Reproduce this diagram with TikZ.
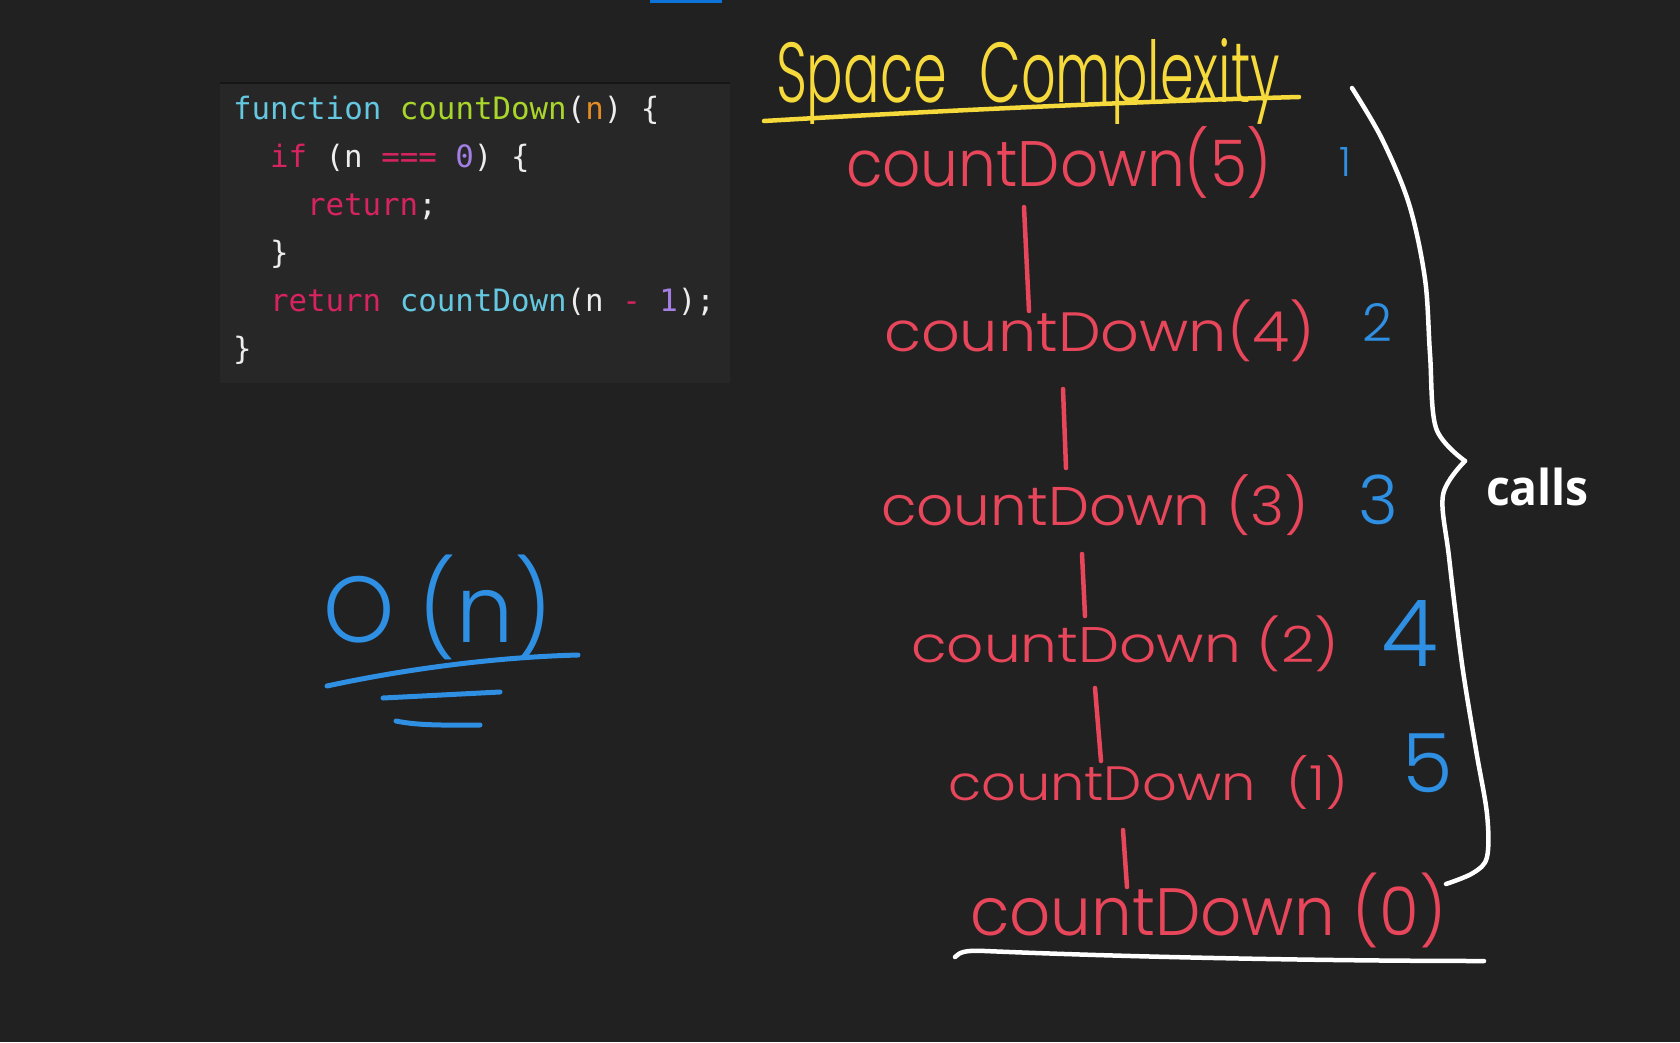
\documentclass[tikz,border=0pt]{standalone}
\usepackage{fontspec}
\usepackage{graphicx}
\newfontfamily\handfont{Poppins Light}
\newfontfamily\codefont{DejaVu Sans Mono}
\newfontfamily\callsfont{Open Sans}
\definecolor{bg}{HTML}{212121}
\definecolor{codebg}{HTML}{272727}
\definecolor{codetop}{HTML}{161616}
\definecolor{cwhite}{HTML}{EDEDED}
\definecolor{cfun}{HTML}{64C8E1}
\definecolor{cdef}{HTML}{A9D62A}
\definecolor{cparam}{HTML}{E38B24}
\definecolor{ckey}{HTML}{D7235F}
\definecolor{cnum}{HTML}{A37FE3}
\definecolor{hred}{HTML}{E8465A}
\definecolor{hyellow}{HTML}{F6DA3C}
\definecolor{hblue}{HTML}{2E8FE3}
\definecolor{barblue}{HTML}{0B73D9}
\newcommand{\fitto}[3]{\resizebox*{#1pt}{#2pt}{#3}}
\begin{document}
\begin{tikzpicture}[x=1pt,y=-1pt,
  hand/.style={inner sep=0pt, outer sep=0pt, anchor=north west, font=\handfont\fontsize{60}{60}\selectfont},
  redlbl/.style={hand, text=hred},
  bluenum/.style={hand, text=hblue, anchor=center},
  code/.style={inner sep=0pt, outer sep=0pt, anchor=base west, font=\codefont\fontsize{30.8}{36}\selectfont, text=cwhite},
  conn/.style={draw=hred, line width=4.5pt, line cap=round},
  bluestroke/.style={draw=hblue, line width=5pt, line cap=round, line join=round},
  whitestroke/.style={draw=white, line width=4.5pt, line cap=round, line join=round},
  yellowstroke/.style={draw=hyellow, line width=4.5pt, line cap=round, line join=round}]
\useasboundingbox (0,0) rectangle (1680,1042);
\fill[bg] (0,0) rectangle (1680,1042);
\fill[barblue] (650,0) rectangle (722,2.5);

% code block
\fill[codebg] (220,83) rectangle (730,383);
\draw[codetop, line width=2pt] (220,83) -- (730,83);
\node[code] (l1) at (233,119) {\textcolor{cfun}{function} \textcolor{cdef}{countDown}(\textcolor{cparam}{n}) \{};
\node[code] (l2) at (270,167) {\textcolor{ckey}{if} (n \textcolor{ckey}{===} \textcolor{cnum}{0}) \{};
\node[code] (l3) at (307,215) {\textcolor{ckey}{return};};
\node[code] (l4) at (270,263) {\}};
\node[code] (l5) at (270,311) {\textcolor{ckey}{return} \textcolor{cfun}{countDown}(n \textcolor{ckey}{-} \textcolor{cnum}{1});};
\node[code] (l6) at (233,359) {\}};

% title
\node[hand, text=hyellow] (title) at (776,38) {\fitto{504}{86}{Space\hspace{0.6em}Complexity}};
\draw[yellowstroke] (764,121) .. controls (950,110) and (1150,101) .. (1299,97);

% call chain
\node[redlbl] (c5) at (846,126) {\fitto{426}{72}{countDown(5)}};
\node[redlbl] (c4) at (884,300) {\fitto{431}{62}{countDown(4)}};
\node[redlbl] (c3) at (881,475) {\fitto{428}{61}{countDown (3)}};
\node[redlbl] (c2) at (911,616) {\fitto{428}{56}{countDown (2)}};
\node[redlbl] (c1) at (948,755) {\fitto{400}{54}{countDown\hspace{0.3em} (1)}};
\node[redlbl] (c0) at (970,873) {\fitto{476}{75}{countDown (0)}};

\draw[conn] ([shift={(178,9)}]c5.south west) -- ([shift={(145,11)}]c4.north west);
\draw[conn] ([shift={(179,27)}]c4.south west) -- ([shift={(185,-7)}]c3.north west);
\draw[conn] ([shift={(201,18)}]c3.south west) -- ([shift={(174,0)}]c2.north west);
\draw[conn] ([shift={(184,16)}]c2.south west) -- ([shift={(153,6)}]c1.north west);
\draw[conn] ([shift={(175,21)}]c1.south west) -- ([shift={(157,14)}]c0.north west);

% numbers
\node[bluenum] (n1) at (1345,162) {\resizebox*{!}{29pt}{1}};
\node[bluenum] (n2) at (1377,322) {\resizebox*{!}{38pt}{2}};
\node[bluenum] (n3) at (1378,500) {\resizebox*{!}{50pt}{3}};
\node[bluenum] (n4) at (1410,633) {\resizebox*{!}{66pt}{4}};
\node[bluenum] (n5) at (1428,763) {\resizebox*{!}{59pt}{5}};

% brace
\draw[whitestroke] plot[smooth, tension=0.55] coordinates {(1352,88) (1382,139) (1409,204) (1425,279) (1430,354) (1436,428) (1465,461)};
\draw[whitestroke] plot[smooth, tension=0.55] coordinates {(1465,461) (1443,495) (1449,557) (1462,664) (1476,750) (1487,814) (1487,857) (1473,873) (1446,884)};
\node[inner sep=0pt, outer sep=0pt, anchor=north west, text=white, font=\callsfont\bfseries\fontsize{40}{40}\selectfont] (calls) at (1486,468) {\fitto{103}{38}{calls}};

% bottom line
\draw[whitestroke] (955,957) .. controls (960,952) and (965,950) .. (985,951) .. controls (1150,958) and (1350,961) .. (1484,961);

% O(n)
\node[hand, text=hblue] (bigo) at (323,555) {\fitto{229}{105}{O (n)}};
\draw[bluestroke] (327,686) .. controls (410,668) and (500,657) .. (578,655);
\draw[bluestroke] (383,698) -- (500,692);
\draw[bluestroke] (396,721) .. controls (420,726) and (450,725) .. (480,725);
\end{tikzpicture}
\end{document}
